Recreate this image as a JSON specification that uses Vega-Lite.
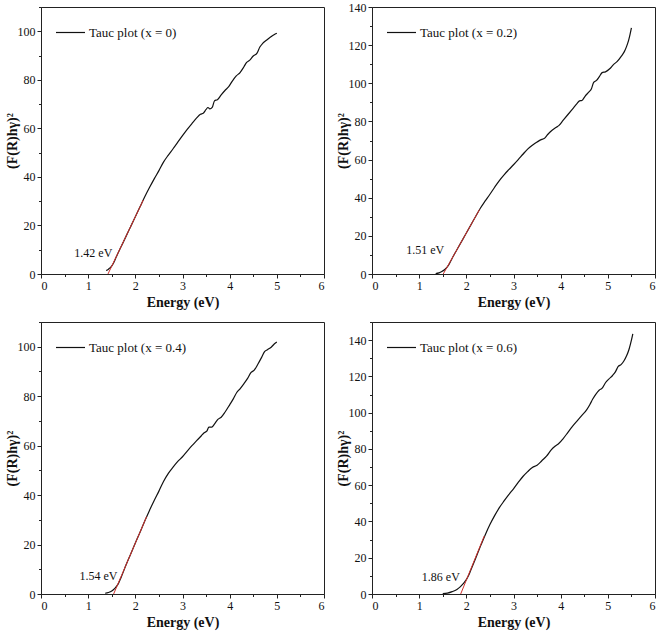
{
  "$schema": "https://vega.github.io/schema/vega-lite/v6.json",
  "background": "white",
  "padding": {"left": 4, "top": 0, "right": 4, "bottom": 4},
  "config": {
    "view": {"stroke": "#222", "strokeWidth": 1},
    "axis": {"domainColor": "#222", "tickColor": "#222", "labelFont": "Liberation Serif", "labelFontSize": 12, "labelColor": "#111", "titleFont": "Liberation Serif", "titleFontSize": 14, "titleFontWeight": "bold", "titleColor": "#111", "grid": false, "labelPadding": 2, "labelOverlap": false, "tickCount": 60},
    "axisY": {"titlePadding": -2},
    "legend": {"orient": "none", "legendX": 14, "legendY": 10, "symbolType": "stroke", "symbolSize": 841, "symbolStrokeWidth": 1.2, "labelFont": "Liberation Serif", "labelFontSize": 13, "labelColor": "#111", "padding": 0, "labelOffset": 3}
  },
  "datasets": {
    "c1": [[1.38,1.4],[1.43,2.0],[1.48,2.8],[1.53,4.2],[1.6,7.2],[1.7,11.3],[1.8,15.4],[1.9,19.5],[2.0,23.6],[2.1,27.7],[2.2,31.8],[2.3,35.6],[2.4,39.2],[2.5,42.6],[2.6,46.2],[2.7,49.0],[2.8,51.6],[2.9,54.3],[3.0,57.0],[3.1,59.6],[3.2,62.0],[3.3,64.3],[3.38,65.8],[3.44,66.2],[3.5,67.8],[3.54,68.6],[3.58,68.0],[3.63,68.6],[3.68,71.4],[3.74,71.8],[3.82,73.8],[3.9,75.6],[3.98,77.2],[4.06,79.6],[4.14,81.6],[4.22,83.0],[4.3,85.3],[4.36,87.2],[4.42,88.0],[4.5,89.8],[4.58,91.0],[4.64,93.5],[4.7,95.0],[4.78,96.3],[4.86,97.5],[4.94,98.6],[5.0,99.2]],
    "c2": [[1.35,0.2],[1.42,0.6],[1.48,1.3],[1.55,2.5],[1.62,4.5],[1.7,8.3],[1.8,12.7],[1.9,17.1],[2.0,21.5],[2.1,25.9],[2.2,30.3],[2.3,34.6],[2.4,38.3],[2.5,41.8],[2.6,45.5],[2.7,49.0],[2.8,52.0],[2.9,54.7],[3.0,57.3],[3.1,60.0],[3.2,62.8],[3.3,65.5],[3.4,67.5],[3.5,69.2],[3.6,70.6],[3.65,71.0],[3.72,73.0],[3.8,75.0],[3.9,76.8],[3.96,77.8],[4.05,80.5],[4.15,83.5],[4.25,86.5],[4.35,89.5],[4.4,90.8],[4.45,91.0],[4.52,93.3],[4.6,95.5],[4.65,97.0],[4.7,100.5],[4.76,101.5],[4.82,103.5],[4.88,105.6],[4.95,106.0],[5.04,107.6],[5.12,109.8],[5.2,111.5],[5.28,114.0],[5.35,116.6],[5.4,119.5],[5.44,122.5],[5.47,125.5],[5.5,129.0]],
    "c3": [[1.36,0.3],[1.43,0.6],[1.5,1.2],[1.57,2.4],[1.64,4.2],[1.7,6.8],[1.8,11.6],[1.9,16.1],[2.0,20.6],[2.1,25.0],[2.2,29.5],[2.3,33.8],[2.4,37.8],[2.5,41.6],[2.6,45.6],[2.7,48.8],[2.8,51.3],[2.9,53.6],[3.0,55.5],[3.1,57.8],[3.2,60.0],[3.3,62.0],[3.4,64.0],[3.46,65.2],[3.52,66.0],[3.56,67.5],[3.62,67.5],[3.68,68.8],[3.75,70.6],[3.82,71.5],[3.9,73.5],[4.0,76.5],[4.08,79.0],[4.15,81.5],[4.22,83.0],[4.3,85.0],[4.38,87.2],[4.45,89.5],[4.52,90.5],[4.6,93.0],[4.68,95.8],[4.74,98.0],[4.8,98.8],[4.88,99.8],[4.95,101.2],[5.0,101.9]],
    "c4": [[1.5,0.2],[1.6,0.5],[1.7,1.3],[1.8,2.5],[1.87,3.9],[1.93,5.6],[2.0,7.9],[2.05,10.3],[2.1,13.5],[2.2,19.9],[2.3,26.4],[2.4,32.6],[2.5,38.3],[2.6,43.2],[2.7,47.6],[2.8,51.3],[2.9,54.8],[3.0,58.0],[3.1,61.5],[3.2,64.8],[3.3,67.5],[3.4,69.8],[3.5,71.0],[3.6,73.5],[3.7,76.0],[3.8,79.5],[3.88,81.5],[3.96,83.0],[4.05,85.6],[4.15,89.0],[4.25,92.5],[4.35,95.5],[4.45,98.5],[4.55,101.5],[4.62,104.5],[4.68,107.5],[4.74,110.0],[4.82,112.5],[4.88,113.5],[4.95,116.5],[5.02,118.5],[5.1,120.5],[5.16,122.5],[5.22,125.5],[5.28,126.5],[5.34,128.5],[5.4,131.5],[5.45,135.0],[5.5,140.0],[5.53,143.5]],
    "f1": [{"E":1.42,"v":0},{"E":2.17,"v":30.5}],
    "f2": [{"E":1.51,"v":0},{"E":2.28,"v":33.8}],
    "f3": [{"E":1.54,"v":0},{"E":2.24,"v":31.3}],
    "f4": [{"E":1.88,"v":0},{"E":2.38,"v":32.0}],
    "t1": [{"E":1.11,"v":8.6,"label":"1.42 eV"}],
    "t2": [{"E":1.13,"v":12.6,"label":"1.51 eV"}],
    "t3": [{"E":1.22,"v":7.3,"label":"1.54 eV"}],
    "t4": [{"E":1.46,"v":9.4,"label":"1.86 eV"}]
  },
  "resolve": {"scale": {"color": "independent"}},
  "bounds": "flush",
  "columns": 2,
  "spacing": {"row": 48, "column": 48},
  "concat": [
    {
      "width": 283, "height": 267,
      "layer": [
        {"data": {"name": "c1"}, "mark": {"type": "line", "strokeWidth": 1.2, "interpolate": "monotone"},
         "encoding": {
           "x": {"field": "0", "type": "quantitative", "scale": {"domain": [0, 6], "nice": false}, "axis": {"title": "Energy (eV)", "tickCount": 60, "labelOverlap": false, "values": [0,0.5,1,1.5,2,2.5,3,3.5,4,4.5,5,5.5,6], "labelExpr": "datum.value % 1 === 0 ? format(datum.value, 'd') : ''", "tickSize": {"condition": {"test": "datum.value % 1 !== 0", "value": 2.5}, "value": 4}}},
           "y": {"field": "1", "type": "quantitative", "scale": {"domain": [0, 110], "nice": false}, "axis": {"title": "(F(R)hγ)²", "tickCount": 60, "labelOverlap": false, "values": [0,10,20,30,40,50,60,70,80,90,100,110], "labelExpr": "datum.value % 20 === 0 ? format(datum.value, 'd') : ''", "tickSize": {"condition": {"test": "datum.value % 20 !== 0", "value": 2.5}, "value": 4}}},
           "color": {"datum": "Tauc plot (x = 0)", "type": "nominal", "scale": {"range": ["#111"]}, "legend": {"title": null}}
         }},
        {"data": {"name": "f1"}, "mark": {"type": "line", "color": "#d0312d", "strokeWidth": 1},
         "encoding": {"x": {"field": "E", "type": "quantitative"}, "y": {"field": "v", "type": "quantitative"}}},
        {"data": {"name": "t1"}, "mark": {"type": "text", "font": "Liberation Serif", "fontSize": 12, "color": "#111"},
         "encoding": {"x": {"field": "E", "type": "quantitative"}, "y": {"field": "v", "type": "quantitative"}, "text": {"field": "label"}}}
      ]
    },
    {
      "width": 283, "height": 267,
      "layer": [
        {"data": {"name": "c2"}, "mark": {"type": "line", "strokeWidth": 1.2, "interpolate": "monotone"},
         "encoding": {
           "x": {"field": "0", "type": "quantitative", "scale": {"domain": [0, 6], "nice": false}, "axis": {"title": "Energy (eV)", "tickCount": 60, "labelOverlap": false, "values": [0,0.5,1,1.5,2,2.5,3,3.5,4,4.5,5,5.5,6], "labelExpr": "datum.value % 1 === 0 ? format(datum.value, 'd') : ''", "tickSize": {"condition": {"test": "datum.value % 1 !== 0", "value": 2.5}, "value": 4}}},
           "y": {"field": "1", "type": "quantitative", "scale": {"domain": [0, 140], "nice": false}, "axis": {"title": "(F(R)hγ)²", "tickCount": 60, "labelOverlap": false, "values": [0,10,20,30,40,50,60,70,80,90,100,110,120,130,140], "labelExpr": "datum.value % 20 === 0 ? format(datum.value, 'd') : ''", "tickSize": {"condition": {"test": "datum.value % 20 !== 0", "value": 2.5}, "value": 4}}},
           "color": {"datum": "Tauc plot (x = 0.2)", "type": "nominal", "scale": {"range": ["#111"]}, "legend": {"title": null}}
         }},
        {"data": {"name": "f2"}, "mark": {"type": "line", "color": "#d0312d", "strokeWidth": 1},
         "encoding": {"x": {"field": "E", "type": "quantitative"}, "y": {"field": "v", "type": "quantitative"}}},
        {"data": {"name": "t2"}, "mark": {"type": "text", "font": "Liberation Serif", "fontSize": 12, "color": "#111"},
         "encoding": {"x": {"field": "E", "type": "quantitative"}, "y": {"field": "v", "type": "quantitative"}, "text": {"field": "label"}}}
      ]
    },
    {
      "width": 283, "height": 272,
      "layer": [
        {"data": {"name": "c3"}, "mark": {"type": "line", "strokeWidth": 1.2, "interpolate": "monotone"},
         "encoding": {
           "x": {"field": "0", "type": "quantitative", "scale": {"domain": [0, 6], "nice": false}, "axis": {"title": "Energy (eV)", "tickCount": 60, "labelOverlap": false, "values": [0,0.5,1,1.5,2,2.5,3,3.5,4,4.5,5,5.5,6], "labelExpr": "datum.value % 1 === 0 ? format(datum.value, 'd') : ''", "tickSize": {"condition": {"test": "datum.value % 1 !== 0", "value": 2.5}, "value": 4}}},
           "y": {"field": "1", "type": "quantitative", "scale": {"domain": [0, 110], "nice": false}, "axis": {"title": "(F(R)hγ)²", "tickCount": 60, "labelOverlap": false, "values": [0,10,20,30,40,50,60,70,80,90,100,110], "labelExpr": "datum.value % 20 === 0 ? format(datum.value, 'd') : ''", "tickSize": {"condition": {"test": "datum.value % 20 !== 0", "value": 2.5}, "value": 4}}},
           "color": {"datum": "Tauc plot (x = 0.4)", "type": "nominal", "scale": {"range": ["#111"]}, "legend": {"title": null}}
         }},
        {"data": {"name": "f3"}, "mark": {"type": "line", "color": "#d0312d", "strokeWidth": 1},
         "encoding": {"x": {"field": "E", "type": "quantitative"}, "y": {"field": "v", "type": "quantitative"}}},
        {"data": {"name": "t3"}, "mark": {"type": "text", "font": "Liberation Serif", "fontSize": 12, "color": "#111"},
         "encoding": {"x": {"field": "E", "type": "quantitative"}, "y": {"field": "v", "type": "quantitative"}, "text": {"field": "label"}}}
      ]
    },
    {
      "width": 283, "height": 272,
      "layer": [
        {"data": {"name": "c4"}, "mark": {"type": "line", "strokeWidth": 1.2, "interpolate": "monotone"},
         "encoding": {
           "x": {"field": "0", "type": "quantitative", "scale": {"domain": [0, 6], "nice": false}, "axis": {"title": "Energy (eV)", "tickCount": 60, "labelOverlap": false, "values": [0,0.5,1,1.5,2,2.5,3,3.5,4,4.5,5,5.5,6], "labelExpr": "datum.value % 1 === 0 ? format(datum.value, 'd') : ''", "tickSize": {"condition": {"test": "datum.value % 1 !== 0", "value": 2.5}, "value": 4}}},
           "y": {"field": "1", "type": "quantitative", "scale": {"domain": [0, 150], "nice": false}, "axis": {"title": "(F(R)hγ)²", "tickCount": 60, "labelOverlap": false, "values": [0,10,20,30,40,50,60,70,80,90,100,110,120,130,140,150], "labelExpr": "datum.value % 20 === 0 ? format(datum.value, 'd') : ''", "tickSize": {"condition": {"test": "datum.value % 20 !== 0", "value": 2.5}, "value": 4}}},
           "color": {"datum": "Tauc plot (x = 0.6)", "type": "nominal", "scale": {"range": ["#111"]}, "legend": {"title": null}}
         }},
        {"data": {"name": "f4"}, "mark": {"type": "line", "color": "#d0312d", "strokeWidth": 1},
         "encoding": {"x": {"field": "E", "type": "quantitative"}, "y": {"field": "v", "type": "quantitative"}}},
        {"data": {"name": "t4"}, "mark": {"type": "text", "font": "Liberation Serif", "fontSize": 12, "color": "#111"},
         "encoding": {"x": {"field": "E", "type": "quantitative"}, "y": {"field": "v", "type": "quantitative"}, "text": {"field": "label"}}}
      ]
    }
  ]
}
